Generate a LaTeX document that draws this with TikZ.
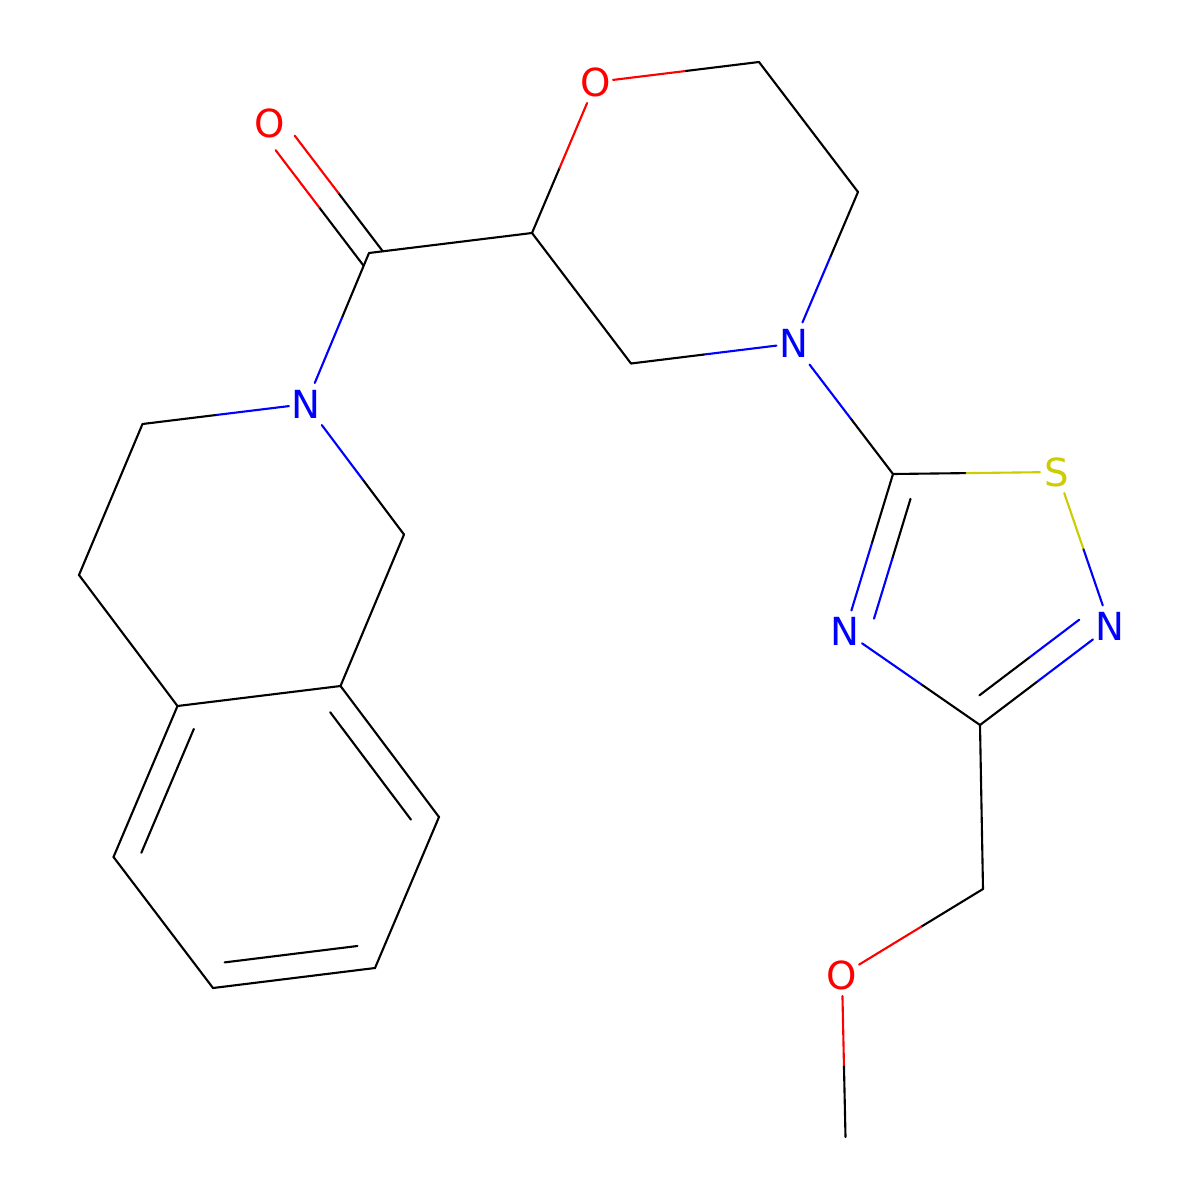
\documentclass[tikz,border=0pt]{standalone}
\usepackage{fontspec}
\setmainfont{DejaVu Sans}
\usetikzlibrary{calc}
\definecolor{ored}{RGB}{255,0,0}
\definecolor{nblue}{RGB}{0,0,255}
\definecolor{syel}{RGB}{204,204,0}
% bond split in two coloured halves
\newcommand{\bnd}[4]{\path (#1) -- coordinate[pos=0.5] (bm) (#2);
  \draw[#3] (#1) -- (bm); \draw[#4] (bm) -- (#2);}
% offset (inner) line of a double bond: a b angle dist fa fm fb colA colB
\newcommand{\inr}[9]{%
  \draw[#8] ($(#1)!#5!(#2)!#4!#3:(#2)$) -- ($(#1)!#6!(#2)!#4!#3:(#2)$);
  \draw[#9] ($(#1)!#6!(#2)!#4!#3:(#2)$) -- ($(#1)!#7!(#2)!#4!#3:(#2)$);}
\tikzset{atom/.style={inner sep=0pt, minimum width=0.64cm, minimum height=0.8cm,
  font=\fontsize{22}{26}\selectfont}}
\begin{document}
\begin{tikzpicture}[x=0.02cm, y=-0.02cm, line width=1.2pt, line cap=round]
\fill[white] (0,0) rectangle (1200,1200);
\useasboundingbox (0,0) rectangle (1200,1200);
% labelled atoms
\node[atom, text=ored] (O1) at (270,123) {O};
\node[atom, text=ored] (Om) at (596,82) {O};
\node[atom, text=nblue] (Nm) at (793.5,343.5) {N};
\node[atom, text=nblue] (Na) at (306,404) {N};
\node[atom, text=syel] (S) at (1057,472) {S};
\node[atom, text=nblue] (N2) at (1110,626.5) {N};
\node[atom, text=nblue] (N4) at (845,631.5) {N};
\node[atom, text=ored] (Ome) at (842,975) {O};
% carbon atoms
\coordinate (Cc) at (369,253);
\coordinate (C2) at (532,233);
\coordinate (C3m) at (759,62);
\coordinate (C5m) at (858,192);
\coordinate (C6m) at (631,363.5);
\coordinate (Ca1) at (142.5,424);
\coordinate (Ca2) at (79,575);
\coordinate (Ar1) at (177.5,706);
\coordinate (Ar2) at (340.5,686);
\coordinate (Cb) at (404,534.5);
\coordinate (Ar3) at (439,817);
\coordinate (Ar4) at (375,968);
\coordinate (Ar5) at (213,988);
\coordinate (Ar6) at (113.5,857);
\coordinate (Ct5) at (893,474);
\coordinate (Ct3) at (980,725);
\coordinate (Cch2) at (983,889);
\coordinate (Me) at (845.5,1137);
% carbonyl double bond
\inr{Cc}{O1}{90}{0.24cm}{-0.037}{0.405}{0.847}{black}{ored}
\inr{Cc}{O1}{-90}{0.24cm}{-0.037}{0.405}{0.847}{black}{ored}
% morpholine
\draw (Cc) -- (C2);
\bnd{Cc}{Na}{black}{nblue}
\bnd{C2}{Om}{black}{ored}
\bnd{Om}{C3m}{ored}{black}
\draw (C3m) -- (C5m);
\bnd{C5m}{Nm}{black}{nblue}
\bnd{Nm}{C6m}{nblue}{black}
\draw (C6m) -- (C2);
% tetrahydroisoquinoline
\bnd{Na}{Ca1}{nblue}{black}
\draw (Ca1) -- (Ca2) -- (Ar1) -- (Ar2) -- (Cb);
\bnd{Cb}{Na}{black}{nblue}
\draw (Ar1) -- (Ar6) -- (Ar5) -- (Ar4) -- (Ar3) -- (Ar2);
\inr{Ar1}{Ar6}{90}{0.48cm}{0.09}{0.5}{0.91}{black}{black}
\inr{Ar2}{Ar3}{-90}{0.48cm}{0.09}{0.5}{0.91}{black}{black}
\inr{Ar4}{Ar5}{-90}{0.48cm}{0.09}{0.5}{0.91}{black}{black}
% thiadiazole
\bnd{Nm}{Ct5}{nblue}{black}
\bnd{Ct5}{S}{black}{syel}
\bnd{S}{N2}{syel}{nblue}
\bnd{N2}{Ct3}{nblue}{black}
\inr{Ct3}{N2}{90}{0.48cm}{0.107}{0.491}{0.875}{black}{nblue}
\bnd{Ct3}{N4}{black}{nblue}
\bnd{N4}{Ct5}{nblue}{black}
\inr{Ct5}{N4}{90}{0.48cm}{0.113}{0.4935}{0.874}{black}{nblue}
% methoxymethyl
\draw (Ct3) -- (Cch2);
\bnd{Cch2}{Ome}{black}{ored}
\bnd{Ome}{Me}{ored}{black}
\end{tikzpicture}
\end{document}
